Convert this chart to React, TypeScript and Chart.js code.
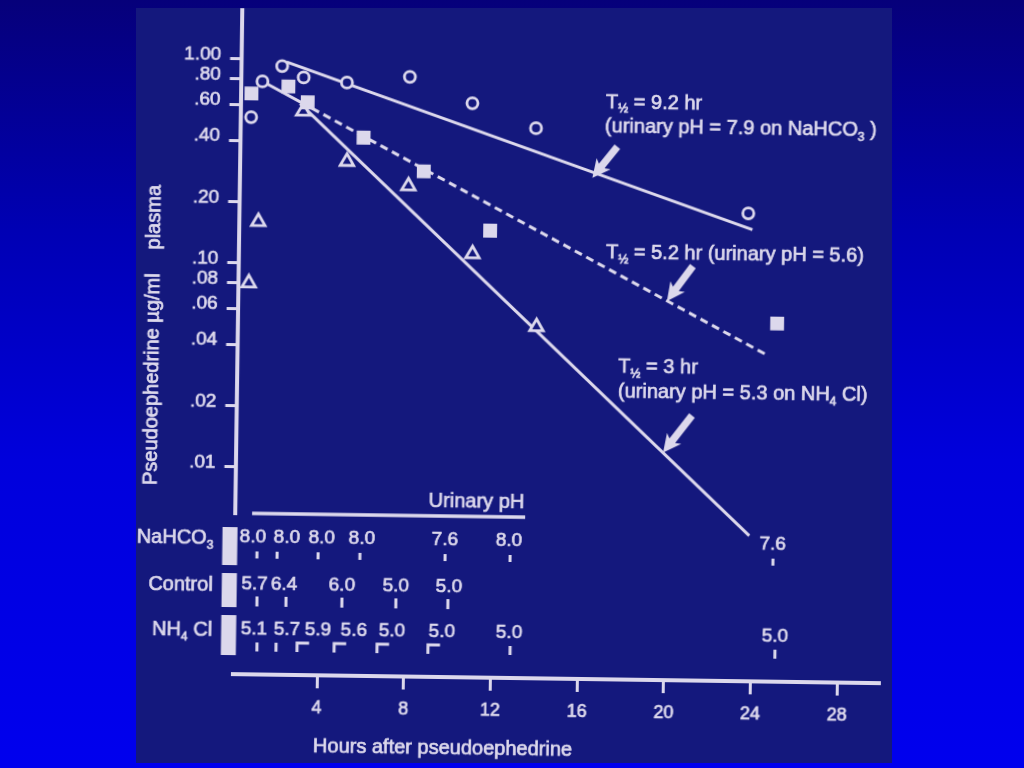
import React, { useEffect, useRef } from "react";
import { Chart, registerables } from "chart.js";

Chart.register(...registerables);

// ---------- data ----------
const X_TICKS = [4, 8, 12, 16, 20, 24, 28];
const Y_TICKS = [1, 0.8, 0.6, 0.4, 0.2, 0.1, 0.08, 0.06, 0.04, 0.02, 0.01];
const Y_TICK_LABELS = ["1.00", ".80", ".60", ".40", ".20", ".10", ".08", ".06", ".04", ".02", ".01"];

// plasma pseudoephedrine (µg/ml) vs hours
const NAHCO3_HOURS = [0.6, 1.1, 2.0, 3.0, 5.0, 7.9, 10.8, 13.75, 23.6];
const NAHCO3_CONC = [0.52, 0.78, 0.93, 0.82, 0.78, 0.84, 0.63, 0.48, 0.19];
const CONTROL_HOURS = [0.6, 2.3, 3.2, 5.8, 8.6, 11.7, 25.0];
const CONTROL_CONC = [0.68, 0.74, 0.62, 0.42, 0.29, 0.15, 0.055];
const NH4CL_HOURS = [0.6, 1.0, 3.0, 5.05, 7.9, 10.9, 13.9];
const NH4CL_CONC = [0.08, 0.16, 0.56, 0.32, 0.245, 0.115, 0.051];

// fitted elimination lines (end points)
const NAHCO3_FIT_HOURS = [2.2, 23.8];
const NAHCO3_FIT_CONC = [0.975, 0.158];
const CONTROL_FIT_HOURS = [1.2, 3.4, 24.55];
const CONTROL_FIT_CONC = [0.77, 0.58, 0.0385];
const NH4CL_FIT_HOURS = [2.85, 23.85];
const NH4CL_FIT_CONC = [0.61, 0.005];

// arrows pointing at the fitted lines
const ARROW_TIP_HOURS = [16.38, 19.9, 19.82];
const ARROW_TIP_CONC = [0.277, 0.0697, 0.0126];

// urinary pH table
const NAHCO3_PH = [8.0, 8.0, 8.0, 8.0, 7.6, 8.0, 7.6];
const NAHCO3_PH_HOURS = [1.15, 2.08, 3.97, 5.9, 9.83, 12.83, 24.96];
const NAHCO3_PH_LABEL_HOURS = [0.95, 2.52, 4.13, 5.98, 9.81, 12.77, 24.94];
const CONTROL_PH = [5.7, 6.4, 6.0, 5.0, 5.0];
const CONTROL_PH_HOURS = [1.18, 2.52, 5.1, 7.59, 9.99];
const CONTROL_PH_LABEL_HOURS = [1.06, 2.42, 5.09, 7.58, 10.03];
const NH4CL_PH = [5.1, 5.7, 5.9, 5.6, 5.0, 5.0, 5.0, 5.0];
const NH4CL_PH_HOURS = [1.21, 2.09, 3.06, 4.77, 6.75, 9.1, 12.89, 25.11];
const NH4CL_PH_LABEL_HOURS = [1.06, 2.58, 4.01, 5.67, 7.43, 9.73, 12.83, 25.1];
const NH4CL_PH_INTERVAL = [false, false, true, true, true, true, false, false];

// ---------- styles ----------
const LIGHT = "#dcd8ec";
const PANEL = "#14187d";
const FONT = '"Liberation Sans", Arial, Helvetica, sans-serif';
const STROKE = 0.7;

type Part = [string, boolean];

function text(ctx: CanvasRenderingContext2D, t: string, x: number, y: number) {
  ctx.fillText(t, x, y);
  ctx.lineWidth = STROKE;
  ctx.strokeText(t, x, y);
}

function drawParts(ctx: CanvasRenderingContext2D, parts: Part[], x: number, y: number, align: string, size: number) {
  const subSize = Math.round(size * 0.62);
  const widths = parts.map(([t, sub]) => {
    ctx.font = `${sub ? subSize : size}px ${FONT}`;
    return ctx.measureText(t).width;
  });
  const total = widths.reduce((a, b) => a + b, 0);
  let cx = align === "right" ? x - total : align === "center" ? x - total / 2 : x;
  ctx.textAlign = "left";
  ctx.textBaseline = "alphabetic";
  parts.forEach(([t, sub], i) => {
    ctx.font = `${sub ? subSize : size}px ${FONT}`;
    text(ctx, t, cx, sub ? y + size * 0.24 : y);
    cx += widths[i];
  });
}

function drawArrow(ctx: CanvasRenderingContext2D, tx: number, ty: number, vx: number, vy: number) {
  const len = Math.hypot(vx, vy);
  const ux = vx / len, uy = vy / len;
  const px = -uy, py = ux;
  const headLen = 18, headHalf = 9, shaftHalf = 3.6;
  const bx = tx + ux * headLen, by = ty + uy * headLen;
  const ex = tx + vx, ey = ty + vy;
  ctx.beginPath();
  ctx.moveTo(tx, ty);
  ctx.lineTo(bx + px * headHalf, by + py * headHalf);
  ctx.lineTo(bx - ux * 3 + px * shaftHalf, by - uy * 3 + py * shaftHalf);
  ctx.lineTo(ex + px * shaftHalf, ey + py * shaftHalf);
  ctx.lineTo(ex - px * shaftHalf, ey - py * shaftHalf);
  ctx.lineTo(bx - ux * 3 - px * shaftHalf, by - uy * 3 - py * shaftHalf);
  ctx.lineTo(bx - px * headHalf, by - py * headHalf);
  ctx.closePath();
  ctx.fill();
}

const ANNOTATIONS: { hour: number; conc: number; parts: Part[] }[] = [
  { hour: 16.96, conc: 0.61, parts: [["T", false], ["½", true], [" = 9.2 hr", false]] },
  { hour: 16.93, conc: 0.465, parts: [["(urinary pH = 7.9 on NaHCO", false], ["3", true], [" )", false]] },
  { hour: 17.06, conc: 0.112, parts: [["T", false], ["½", true], [" = 5.2 hr (urinary pH = 5.6)", false]] },
  { hour: 17.7, conc: 0.0308, parts: [["T", false], ["½", true], [" = 3 hr", false]] },
  { hour: 17.7, conc: 0.0232, parts: [["(urinary pH = 5.3 on NH", false], ["4", true], [" Cl)", false]] },
];

const ARROW_VECTORS = [
  [24.6, -31.4],
  [25.5, -35.3],
  [28.4, -37.4],
];

const overlayPlugin = {
  id: "overlay",
  afterDraw(chart: any) {
    const ctx: CanvasRenderingContext2D = chart.ctx;
    const xs = chart.scales.x;
    const ys = chart.scales.y;
    const { left, top, bottom } = chart.chartArea;
    const X = (h: number) => xs.getPixelForValue(h);
    const Y = (c: number) => ys.getPixelForValue(c);
    ctx.save();
    ctx.fillStyle = LIGHT;
    ctx.strokeStyle = LIGHT;

    // vertical axis line (stops at the pH table)
    ctx.lineWidth = 4;
    ctx.beginPath();
    ctx.moveTo(left + 0.5, top);
    ctx.lineTo(left + 0.5, bottom - 159);
    ctx.stroke();

    // y axis title
    ctx.save();
    ctx.translate(151, 490);
    ctx.rotate(-Math.PI / 2);
    ctx.font = `20px ${FONT}`;
    ctx.textBaseline = "alphabetic";
    ctx.textAlign = "left";
    text(ctx, "Pseudoephedrine µg/ml", 0, 7);
    ctx.textAlign = "right";
    text(ctx, "plasma", 300, 7);
    ctx.restore();

    // x axis title
    ctx.font = `20px ${FONT}`;
    ctx.textAlign = "left";
    ctx.textBaseline = "alphabetic";
    text(ctx, "Hours after pseudoephedrine", X(3.86), 755);

    // annotations
    ANNOTATIONS.forEach((a) => drawParts(ctx, a.parts, X(a.hour), Y(a.conc), "left", 20));

    // arrows
    ARROW_TIP_HOURS.forEach((h, i) => {
      drawArrow(ctx, X(h), Y(ARROW_TIP_CONC[i]), ARROW_VECTORS[i][0], ARROW_VECTORS[i][1]);
    });

    // urinary pH header
    ctx.font = `20px ${FONT}`;
    ctx.textAlign = "right";
    text(ctx, "Urinary pH", X(13.45), bottom - 170);
    ctx.lineWidth = 3.5;
    ctx.beginPath();
    ctx.moveTo(X(0.9), bottom - 161);
    ctx.lineTo(X(13.5), bottom - 161);
    ctx.stroke();

    const rows = [
      { label: [["NaHCO", false], ["3", true]] as Part[], ph: NAHCO3_PH, tick: NAHCO3_PH_HOURS, lab: NAHCO3_PH_LABEL_HOURS, interval: null as boolean[] | null, textY: -132, tickY: [-123, -116], bar: [-147, -109] },
      { label: [["Control", false]] as Part[], ph: CONTROL_PH, tick: CONTROL_PH_HOURS, lab: CONTROL_PH_LABEL_HOURS, interval: null, textY: -85, tickY: [-78, -68], bar: [-101, -67] },
      { label: [["NH", false], ["4", true], [" Cl", false]] as Part[], ph: NH4CL_PH, tick: NH4CL_PH_HOURS, lab: NH4CL_PH_LABEL_HOURS, interval: NH4CL_PH_INTERVAL, textY: -40, tickY: [-32, -23], bar: [-59, -19] },
    ];
    rows.forEach((r) => {
      drawParts(ctx, r.label, left - 21, bottom + r.textY + 2, "right", 20);
      ctx.fillRect(left - 12, bottom + r.bar[0], 15, r.bar[1] - r.bar[0]);
      ctx.font = `19px ${FONT}`;
      ctx.textAlign = "center";
      ctx.textBaseline = "alphabetic";
      r.ph.forEach((v, i) => text(ctx, v.toFixed(1), X(r.lab[i]), bottom + r.textY));
      ctx.lineWidth = 3;
      r.tick.forEach((h, i) => {
        const x = X(h);
        ctx.beginPath();
        if (r.interval && r.interval[i]) {
          ctx.moveTo(x, bottom + r.tickY[1]);
          ctx.lineTo(x, bottom + r.tickY[0]);
          ctx.lineTo(x + 12, bottom + r.tickY[0]);
        } else {
          ctx.moveTo(x, bottom + r.tickY[0]);
          ctx.lineTo(x, bottom + r.tickY[1]);
        }
        ctx.stroke();
      });
    });
    ctx.restore();
  },
};

const pts = (xs: number[], ys: number[]) => xs.map((x, i) => ({ x, y: ys[i] }));

export default function App() {
  const ref = useRef<HTMLCanvasElement | null>(null);
  useEffect(() => {
    if (!ref.current) return;
    Chart.defaults.font.family = FONT;
    const chart = new Chart(ref.current, {
      type: "scatter",
      data: {
        datasets: [
          {
            label: "NaHCO3",
            data: pts(NAHCO3_HOURS, NAHCO3_CONC),
            pointStyle: "circle",
            pointRadius: 5.5,
            pointBorderWidth: 2.8,
            pointBorderColor: LIGHT,
            pointBackgroundColor: PANEL,
            showLine: false,
          },
          {
            label: "Control",
            data: pts(CONTROL_HOURS, CONTROL_CONC),
            pointStyle: "rect",
            pointRadius: 9.8,
            pointBorderWidth: 0,
            pointBackgroundColor: LIGHT,
            showLine: false,
          },
          {
            label: "NH4Cl",
            data: pts(NH4CL_HOURS, NH4CL_CONC),
            pointStyle: "triangle",
            pointRadius: 7.8,
            pointBorderWidth: 2.8,
            pointBorderColor: LIGHT,
            pointBackgroundColor: PANEL,
            showLine: false,
          },
          {
            label: "NaHCO3 fit",
            data: pts(NAHCO3_FIT_HOURS, NAHCO3_FIT_CONC),
            showLine: true,
            pointRadius: 0,
            borderColor: LIGHT,
            borderWidth: 3,
          },
          {
            label: "Control fit",
            data: pts(CONTROL_FIT_HOURS, CONTROL_FIT_CONC),
            showLine: true,
            pointRadius: 0,
            borderColor: LIGHT,
            borderWidth: 3,
            segment: {
              borderDash: (c: any) => (c.p0DataIndex === 0 ? [] : [8, 5]),
            },
          },
          {
            label: "NH4Cl fit",
            data: pts(NH4CL_FIT_HOURS, NH4CL_FIT_CONC),
            showLine: true,
            pointRadius: 0,
            borderColor: LIGHT,
            borderWidth: 3,
          },
        ],
      },
      options: {
        responsive: false,
        animation: false,
        devicePixelRatio: 1,
        layout: { padding: { left: 0, top: 12, right: 139.35, bottom: 0 } },
        plugins: { legend: { display: false }, tooltip: { enabled: false }, title: { display: false } },
        scales: {
          x: {
            type: "linear",
            min: 0.1,
            max: 30,
            afterBuildTicks: (s: any) => {
              s.ticks = X_TICKS.map((v) => ({ value: v }));
            },
            afterFit: (s: any) => {
              s.height = 90;
              s.paddingLeft = 0;
              s.paddingRight = 0;
            },
            ticks: { color: LIGHT, font: { size: 18 }, padding: 9, autoSkip: false, maxRotation: 0, textStrokeColor: LIGHT, textStrokeWidth: STROKE },
            grid: { drawOnChartArea: false, drawTicks: true, tickLength: 13, tickWidth: 3, tickColor: LIGHT, color: LIGHT },
            border: { display: true, color: LIGHT, width: 4 },
          },
          y: {
            type: "logarithmic",
            min: 0.000966,
            max: 1.776,
            afterBuildTicks: (s: any) => {
              s.ticks = Y_TICKS.map((v) => ({ value: v }));
            },
            afterFit: (s: any) => {
              s.width = 236.6;
              s.paddingTop = 0;
              s.paddingBottom = 0;
            },
            ticks: {
              color: LIGHT,
              font: { size: 19 },
              padding: 9,
              autoSkip: false,
              labelOffset: -4,
              textStrokeColor: LIGHT,
              textStrokeWidth: STROKE,
              callback: (v: any) => {
                const i = Y_TICKS.indexOf(Number(v));
                return i >= 0 ? Y_TICK_LABELS[i] : "";
              },
            },
            grid: { drawOnChartArea: false, drawTicks: true, tickLength: 11, tickWidth: 3, tickColor: LIGHT, color: LIGHT },
            border: { display: false },
          },
        },
      },
      plugins: [overlayPlugin],
    } as any);
    return () => chart.destroy();
  }, []);

  return (
    <div
      style={{
        position: "fixed",
        left: 0,
        top: 0,
        width: 1024,
        height: 768,
        overflow: "hidden",
        background: "linear-gradient(180deg, #06007a 0%, #0000b4 30%, #0000dc 60%, #0000ee 100%)",
      }}
    >
      <div style={{ position: "absolute", left: 136, top: 8, width: 756, height: 755, background: PANEL }} />
      <canvas
        ref={ref}
        width={1024}
        height={768}
        style={{ position: "absolute", left: 0, top: 0, width: 1024, height: 768, transform: "rotate(0.8deg)", transformOrigin: "512px 384px" }}
      />
    </div>
  );
}
